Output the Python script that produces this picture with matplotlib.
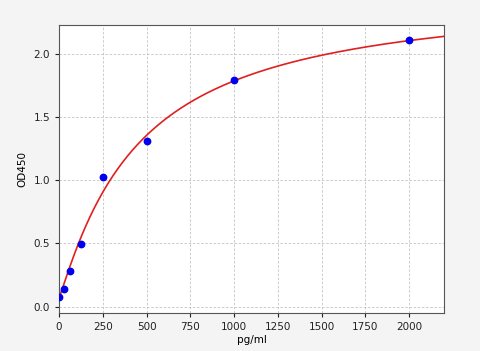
import numpy as np
import matplotlib
matplotlib.use("Agg")
import matplotlib.pyplot as plt

conc = [0, 31.25, 62.5, 125, 250, 500, 1000, 2000]
od = [0.079, 0.138, 0.285, 0.494, 1.024, 1.314, 1.797, 2.114]

# 4PL fit parameters (bottom, slope, midpoint, top)
fit_a, fit_b, fit_c, fit_d = 0.07, 1.1, 450.0, 2.5

xticks = [0, 250, 500, 750, 1000, 1250, 1500, 1750, 2000]
yticks = [0.0, 0.5, 1.0, 1.5, 2.0]

fig = plt.figure(figsize=(4.8, 3.51), dpi=100, facecolor="#f4f4f4")
ax = fig.add_axes([59/480, 1-313/351, (444-59)/480, (313-24.5)/351])
ax.set_facecolor("white")

xs = np.linspace(0, 2200, 400)
ys = fit_d + (fit_a - fit_d) / (1 + (xs / fit_c) ** fit_b)
ax.plot(xs, ys, color="#e02020", lw=1.2, zorder=2)
ax.plot(conc, od, "o", color="#0000ee", ms=4.6, zorder=3)

ax.set_xlim(0, 2200)
ax.set_ylim(-0.05, 2.233)
ax.set_xticks(xticks)
ax.set_yticks(yticks)
ax.grid(True, linestyle=(0, (3, 2)), color="#c4c4c4", lw=0.6)
ax.tick_params(labelsize=7.5, colors="#222222", length=3)
for s in ax.spines.values():
    s.set_color("#555555")
ax.set_xlabel("pg/ml", fontsize=7.5, labelpad=2)
ax.set_ylabel("OD450", fontsize=7.5, labelpad=4)

fig.savefig("out.png", dpi=100, facecolor=fig.get_facecolor())
